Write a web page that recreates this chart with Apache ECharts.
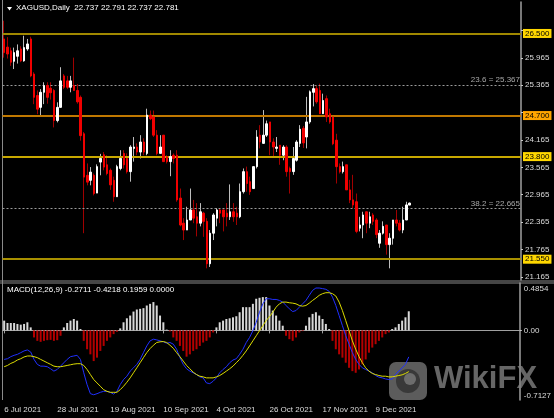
<!DOCTYPE html>
<html><head><meta charset="utf-8">
<script src="https://cdn.jsdelivr.net/npm/echarts@6/dist/echarts.min.js"></script>
<style>html,body{margin:0;padding:0;background:#000;}#c{width:554px;height:418px;}</style>
</head><body><div id="c"></div>
<script>
// ---- categories (trading days) ----
const tradingDays = {
  Jul: [6,7,8,9,12,13,14,15,16,19,20,21,22,23,26,27,28,29,30],
  Aug: [2,3,4,5,6,9,10,11,12,13,16,17,18,19,20,23,24,25,26,27,30,31],
  Sep: [1,2,3,6,7,8,9,10,13,14,15,16,17,20,21,22,23,24,27,28,29,30],
  Oct: [1,4,5,6,7,8,11,12,13,14,15,18,19,20,21,22,25,26,27,28,29],
  Nov: [1,2,3,4,5,8,9,10,11,12,15,16,17,18,19,22,23,24,25,26,29,30],
  Dec: [1,2,3,6,7,8,9,10,13,14,15,16,17,20,21,22,23]
};
const xTickLabels = ['6 Jul 2021','28 Jul 2021','19 Aug 2021','10 Sep 2021','4 Oct 2021','26 Oct 2021','17 Nov 2021','9 Dec 2021'];
const yTickValues = [21.165,21.765,22.365,22.965,23.565,24.165,24.765,25.365,25.965,26.565];
const yLabelValues = [21.165,21.765,22.365,22.965,23.565,24.165,25.365,25.965];
const macdTickValues = [0.4854, 0, -0.7127];

// ---- OHLC ----
const opens = [26.38,26.20,26.12,25.89,26.00,26.16,25.90,26.16,26.38,25.61,25.14,24.88,25.21,25.36,25.30,25.25,24.59,24.88,25.57,25.46,
25.32,25.36,25.25,25.10,24.30,23.39,23.28,23.39,23.00,23.68,23.84,23.62,23.50,23.28,22.92,23.54,23.87,23.76,23.47,23.98,
24.01,23.90,24.12,23.87,24.71,24.67,24.27,23.87,24.27,23.80,23.69,23.83,23.83,22.89,22.34,22.19,22.41,22.63,22.48,22.34,
22.56,22.38,21.45,22.12,22.45,22.63,22.63,22.56,22.48,22.59,22.56,22.48,23.03,23.47,23.25,23.10,23.58,24.27,24.09,24.27,
24.56,24.12,23.98,24.05,23.83,24.01,23.54,23.47,23.72,24.09,24.42,24.23,24.56,25.21,25.29,25.25,24.74,25.07,24.74,24.67,
24.16,23.58,23.47,23.62,23.07,22.85,22.81,22.23,22.30,22.59,22.34,22.52,22.41,21.90,22.12,22.30,21.87,22.01,22.41,22.34,
22.19,22.41,22.737];
const highs = [26.78,26.42,26.19,26.19,26.26,26.22,26.45,26.38,26.43,25.65,25.25,25.28,25.43,25.43,25.43,25.28,24.99,25.76,25.61,25.57,
25.57,25.97,25.39,25.14,24.34,23.65,23.57,23.43,23.63,23.86,23.90,23.83,23.54,23.36,23.62,23.94,23.94,23.87,24.05,24.23,
24.09,24.27,24.20,24.85,24.81,24.81,24.38,24.27,24.27,23.83,23.94,23.87,23.94,23.10,22.45,22.70,23.10,22.85,22.78,22.78,
22.59,22.45,22.19,22.56,22.67,22.67,22.63,22.78,23.19,22.78,22.70,23.21,23.54,23.58,23.36,23.58,24.38,24.49,24.82,24.59,
24.56,24.20,24.23,24.05,24.05,24.05,23.58,24.01,24.16,24.49,24.47,25.11,25.25,25.39,25.36,25.40,25.18,25.14,24.85,24.70,
24.30,23.65,23.69,23.62,23.29,23.40,22.99,22.48,22.59,22.59,22.59,22.56,22.45,22.19,22.38,22.30,22.12,22.41,22.63,22.41,
22.70,22.81,22.791];
const lows = [25.97,25.95,25.79,25.72,25.84,25.87,25.88,26.12,25.54,24.95,24.73,24.70,24.95,24.96,25.05,24.44,24.55,24.88,25.28,25.28,
25.21,25.25,24.96,24.15,22.12,23.17,23.17,22.95,23.00,23.39,23.50,23.39,23.07,22.81,22.92,23.50,23.54,23.43,23.25,23.69,
23.83,23.76,23.83,23.83,24.60,24.23,23.83,23.87,23.69,23.65,23.37,23.65,22.81,22.27,21.97,22.19,22.41,22.34,22.05,22.27,
22.04,21.35,21.38,21.97,22.27,22.34,22.16,22.27,22.41,22.37,22.30,22.45,22.99,23.03,22.96,23.10,23.54,23.98,24.09,24.23,
23.83,23.80,23.90,23.62,23.72,23.36,22.99,23.40,23.69,24.01,23.99,23.98,24.52,24.90,24.96,24.74,24.74,24.56,24.52,24.05,
23.21,23.43,23.43,23.07,22.78,22.67,22.12,22.16,22.01,22.12,22.23,22.30,22.01,21.80,22.09,21.65,21.35,21.87,22.27,22.16,
22.12,22.41,22.737];
const closes = [26.08,26.05,25.87,26.08,26.12,25.90,26.19,26.27,25.57,25.10,24.84,25.21,25.36,25.10,25.20,24.59,24.88,25.46,25.32,25.32,
25.46,25.25,25.00,24.26,23.35,23.24,23.46,22.99,23.58,23.76,23.57,23.43,23.18,22.92,23.58,23.76,23.62,23.47,24.01,24.01,
23.90,24.12,23.90,24.71,24.63,24.27,23.87,24.01,23.69,23.69,23.80,23.76,22.85,22.30,22.19,22.41,22.63,22.45,22.34,22.59,
22.38,21.45,22.12,22.52,22.63,22.56,22.48,22.48,22.59,22.48,22.48,23.03,23.47,23.21,23.03,23.58,24.23,24.12,24.27,24.52,
24.12,24.01,24.01,23.83,24.01,23.47,23.47,23.76,24.12,24.40,24.10,24.56,25.22,25.29,25.00,24.74,25.03,24.67,24.56,24.08,
23.58,23.47,23.58,23.07,22.85,22.74,22.16,22.30,22.52,22.34,22.48,22.38,22.09,22.12,22.27,21.87,22.01,22.41,22.34,22.19,
22.41,22.74,22.781];

// ---- MACD(12,26,9) ----
const macdHist = [0.100,0.076,0.076,0.076,0.066,0.059,0.066,0.083,0.031,-0.072,-0.107,-0.117,-0.107,-0.100,-0.097,-0.107,-0.100,-0.055,0.031,0.076,
0.100,0.117,0.100,0.014,-0.107,-0.193,-0.245,-0.314,-0.279,-0.210,-0.159,-0.107,-0.072,-0.038,-0.014,0.021,0.083,0.124,0.152,0.193,
0.214,0.221,0.228,0.255,0.272,0.290,0.255,0.152,0.083,0.008,-0.010,-0.072,-0.107,-0.159,-0.210,-0.269,-0.245,-0.210,-0.193,-0.159,
-0.124,-0.107,-0.072,-0.021,0.031,0.083,0.100,0.117,0.124,0.134,0.145,0.186,0.238,0.238,0.238,0.272,0.324,0.334,0.341,0.341,
0.255,0.203,0.152,0.100,0.048,-0.055,-0.090,-0.107,-0.072,-0.021,-0.007,0.048,0.134,0.169,0.186,0.152,0.117,0.066,0.014,-0.107,
-0.193,-0.245,-0.279,-0.331,-0.383,-0.417,-0.434,-0.400,-0.348,-0.297,-0.228,-0.176,-0.141,-0.107,-0.072,-0.038,-0.021,0.014,0.031,0.066,
0.100,0.134,0.1959];
const macdMain = [-0.297,-0.290,-0.269,-0.255,-0.245,-0.228,-0.210,-0.200,-0.221,-0.297,-0.348,-0.366,-0.366,-0.372,-0.393,-0.417,-0.400,-0.366,-0.331,-0.297,
-0.269,-0.262,-0.255,-0.297,-0.434,-0.555,-0.648,-0.659,-0.648,-0.634,-0.624,-0.624,-0.634,-0.652,-0.624,-0.555,-0.503,-0.469,-0.417,-0.383,
-0.348,-0.297,-0.228,-0.159,-0.107,-0.090,-0.097,-0.107,-0.117,-0.131,-0.124,-0.141,-0.193,-0.279,-0.348,-0.393,-0.417,-0.434,-0.452,-0.476,
-0.486,-0.538,-0.545,-0.521,-0.486,-0.434,-0.400,-0.372,-0.331,-0.303,-0.290,-0.245,-0.193,-0.124,-0.072,-0.003,0.083,0.186,0.272,0.324,
0.324,0.317,0.317,0.307,0.290,0.255,0.221,0.193,0.203,0.238,0.272,0.307,0.359,0.410,0.434,0.434,0.428,0.421,0.400,0.341,
0.255,0.152,0.048,-0.055,-0.141,-0.228,-0.297,-0.348,-0.383,-0.400,-0.417,-0.434,-0.462,-0.479,-0.486,-0.497,-0.503,-0.497,-0.452,-0.417,
-0.383,-0.348,-0.2711];
const macdSignal = [-0.372,-0.359,-0.338,-0.324,-0.303,-0.290,-0.272,-0.262,-0.262,-0.269,-0.279,-0.297,-0.314,-0.331,-0.348,-0.366,-0.372,-0.372,-0.366,-0.359,
-0.352,-0.345,-0.341,-0.341,-0.359,-0.400,-0.452,-0.503,-0.538,-0.572,-0.607,-0.624,-0.634,-0.634,-0.634,-0.607,-0.572,-0.531,-0.486,-0.434,
-0.383,-0.331,-0.279,-0.228,-0.186,-0.152,-0.124,-0.117,-0.114,-0.124,-0.152,-0.183,-0.228,-0.269,-0.314,-0.359,-0.393,-0.428,-0.452,-0.469,
-0.476,-0.486,-0.486,-0.486,-0.476,-0.462,-0.441,-0.417,-0.393,-0.366,-0.331,-0.297,-0.255,-0.210,-0.159,-0.107,-0.055,-0.003,0.048,0.100,
0.141,0.186,0.238,0.272,0.290,0.290,0.283,0.279,0.272,0.255,0.248,0.255,0.279,0.307,0.331,0.359,0.376,0.386,0.386,0.376,
0.352,0.290,0.203,0.100,-0.003,-0.107,-0.193,-0.269,-0.331,-0.383,-0.417,-0.441,-0.452,-0.462,-0.469,-0.469,-0.476,-0.476,-0.469,-0.462,
-0.455,-0.441,-0.4218];

// ---- horizontal levels ----
const levels = [26.5, 24.7, 23.8, 21.55];
const fibPct = ['23.6', '38.2'];
const fibValues = [25.367, 22.665];
const lastBar = [22.737, 22.791, 22.737, 22.781];

// ---- styles ----
const levelLineColors = ['#a08800', '#c07800', '#c8a800', '#a89000'];
const levelBoxColors = ['#ffd700', '#ffa500', '#ffd700', '#ffd700'];
const FONT = 'Liberation Sans';
const TXT = '#dcdcdc';
const AXIS = '#a0a0a0';
const shiftBars = 33;

const categories = [];
Object.keys(tradingDays).forEach(m => tradingDays[m].forEach(d => categories.push(d + ' ' + m + ' 2021')));
for (let i = 0; i < shiftBars; i++) categories.push(' ' + i);
const labelSet = new Set(xTickLabels);
const showTick = (idx, val) => labelSet.has(val);

const wickData = opens.map((o, i) => [o, closes[i], lows[i], highs[i]]);
const bodyData = opens.map((o, i) => [o, closes[i], Math.min(o, closes[i]), Math.max(o, closes[i])]);
const histData = macdHist.map(v => ({ value: v, itemStyle: { color: v >= 0 ? '#d8d8d8' : '#b40000' } }));

function boxLabel(text, bg) {
  return { show: true, position: 'end', distance: 2, formatter: text, color: '#000',
    backgroundColor: bg, padding: [1, 2, 0, 2], fontSize: 8, fontFamily: FONT };
}
function levelSeries(name, value, lineStyle, label) {
  return {
    name: name, type: 'line', xAxisIndex: 0, yAxisIndex: 0, data: [], silent: true, z: 3,
    markLine: { silent: true, symbol: ['none', 'none'], animation: false,
      lineStyle: lineStyle, label: label,
      data: [{ yAxis: value, lineStyle: lineStyle, label: label }] }
  };
}

const extraSeries = [];
levels.forEach((v, k) => extraSeries.push(levelSeries('lvl' + k, v,
  { color: levelLineColors[k], width: 2, type: 'solid', opacity: 1 },
  boxLabel(v.toFixed(3), levelBoxColors[k]))));
fibValues.forEach((v, k) => extraSeries.push(levelSeries('fib' + k, v,
  { color: '#9a9a9a', width: 1, type: [2, 2], opacity: 1 },
  { show: true, position: 'insideEndTop', distance: 1, formatter: fibPct[k] + ' = ' + v.toFixed(3),
    color: '#a8a8a8', fontSize: 8, fontFamily: FONT })));
extraSeries.push(levelSeries('bid', lastBar[3],
  { color: '#000', width: 0, opacity: 0 },
  boxLabel(lastBar[3].toFixed(3), '#ffffff')));

const chart = echarts.init(document.getElementById('c'), null, { renderer: 'canvas' });
chart.setOption({
  backgroundColor: '#000',
  animation: false,
  textStyle: { fontFamily: FONT },
  grid: [
    { left: 2.5, right: 33, top: 2, height: 278 },
    { left: 2.5, right: 33, top: 283, height: 117 }
  ],
  xAxis: [
    { type: 'category', gridIndex: 0, data: categories, boundaryGap: true, show: false },
    { type: 'category', gridIndex: 1, data: categories, boundaryGap: true,
      axisLine: { show: true, lineStyle: { color: AXIS, width: 1 } },
      axisTick: { show: true, alignWithLabel: true, interval: showTick, length: 3, lineStyle: { color: AXIS } },
      axisLabel: { show: true, interval: showTick, align: 'left', color: TXT, fontSize: 8, fontFamily: FONT, margin: 6 },
      splitLine: { show: false } }
  ],
  yAxis: [
    { type: 'value', gridIndex: 0, position: 'right', min: 21.094, max: 27.19, scale: true,
      axisLine: { show: true, lineStyle: { color: AXIS, width: 1.5 } },
      axisTick: { show: true, customValues: yTickValues, length: 2, lineStyle: { color: '#c8c8c8' } },
      axisLabel: { show: true, customValues: yLabelValues, formatter: v => v.toFixed(3), color: TXT, fontSize: 8, fontFamily: FONT, margin: 4 },
      splitLine: { show: false } },
    { type: 'value', gridIndex: 1, position: 'right', min: -0.7127, max: 0.4854,
      axisLine: { show: true, lineStyle: { color: AXIS, width: 1.5 } },
      axisTick: { show: true, customValues: [0], length: 2, lineStyle: { color: '#c8c8c8' } },
      axisLabel: { show: true, customValues: macdTickValues, color: TXT, fontSize: 8, fontFamily: FONT, margin: 4,
        formatter: v => v > 0.1 ? '{t|' + v.toFixed(4) + '}' : (v < -0.1 ? '{b|' + v.toFixed(4) + '}' : v.toFixed(2)),
        rich: { t: { padding: [11, 0, 0, 0], color: TXT, fontSize: 8, fontFamily: FONT },
                b: { padding: [0, 0, 9, 0], color: TXT, fontSize: 8, fontFamily: FONT } } },
      splitLine: { show: false } }
  ],
  series: [
    { name: 'wick', type: 'candlestick', xAxisIndex: 0, yAxisIndex: 0, data: wickData, barWidth: 1, z: 4,
      itemStyle: { color: '#bdbdbd', color0: '#a00000', borderColor: '#bdbdbd', borderColor0: '#a00000', borderWidth: 1 },
      silent: true },
    { name: 'body', type: 'candlestick', xAxisIndex: 0, yAxisIndex: 0, data: bodyData, barWidth: 2, z: 5,
      itemStyle: { color: '#ffffff', color0: '#f00000', borderColor: '#ffffff', borderColor0: '#f00000', borderWidth: 1 },
      silent: true },
    { name: 'hist', type: 'bar', xAxisIndex: 1, yAxisIndex: 1, data: histData, barWidth: 2, silent: true },
    { name: 'MACD', type: 'line', xAxisIndex: 1, yAxisIndex: 1, data: macdMain, showSymbol: false,
      lineStyle: { color: '#2030ff', width: 1 }, silent: true },
    { name: 'Signal', type: 'line', xAxisIndex: 1, yAxisIndex: 1, data: macdSignal, showSymbol: false,
      lineStyle: { color: '#dcdc00', width: 1 }, silent: true }
  ].concat(extraSeries),
  graphic: [
    { type: 'line', shape: { x1: 0, y1: 281, x2: 554, y2: 281 }, style: { stroke: '#8a8a8a', lineWidth: 1 }, silent: true },
    { type: 'line', shape: { x1: 0, y1: 283, x2: 554, y2: 283 }, style: { stroke: '#8a8a8a', lineWidth: 1 }, silent: true },
    { type: 'line', shape: { x1: 2.5, y1: 0, x2: 2.5, y2: 400 }, style: { stroke: '#8a8a8a', lineWidth: 1 }, silent: true },
    { type: 'polygon', shape: { points: [[7, 7], [12, 7], [9.5, 10.5]] }, style: { fill: '#ffffff' }, silent: true },
    { type: 'text', left: 16, top: 4, style: { text: 'XAGUSD,Daily  22.737 22.791 22.737 22.781', fill: '#ffffff', font: '8px "Liberation Sans"' }, silent: true },
    { type: 'text', left: 7, top: 286, style: { text: 'MACD(12,26,9) -0.2711 -0.4218 0.1959 0.0000', fill: '#ffffff', font: '8px "Liberation Sans"' }, silent: true },
    { type: 'group', left: 389, top: 362, z: 100, silent: true, children: [
      { type: 'rect', shape: { x: 0, y: 0, width: 38, height: 38, r: 7 }, style: { fill: 'rgba(115,115,115,0.8)' } },
      { type: 'circle', shape: { cx: 19, cy: 19, r: 12 }, style: { fill: 'rgba(50,50,50,0.85)' } },
      { type: 'circle', shape: { cx: 21, cy: 17, r: 6 }, style: { fill: 'rgba(115,115,115,0.9)' } }
    ] },
    { type: 'text', left: 434, top: 364, z: 100, silent: true,
      style: { text: 'WikiFX', fill: 'rgba(128,128,128,0.8)', font: 'bold 31px "Liberation Sans"' } }
  ]
});
</script></body></html>
